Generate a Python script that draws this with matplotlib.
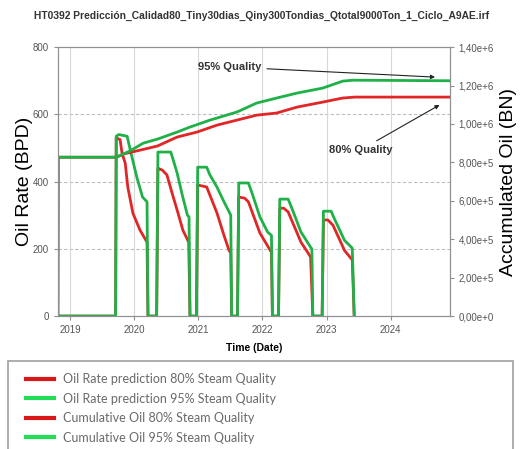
import numpy as np
import matplotlib
matplotlib.use('Agg')
import matplotlib.pyplot as plt
import matplotlib.ticker as mticker
from matplotlib.patches import Rectangle
from matplotlib.lines import Line2D

# ---- data (decimal years) ----
t_rate95 = [2018.81, 2019.70,
            2019.71, 2019.72, 2019.76, 2019.89, 2019.95, 2020.04, 2020.13, 2020.20, 2020.215,
            2020.35, 2020.37, 2020.57, 2020.60, 2020.67, 2020.75, 2020.83, 2020.855, 2020.87,
            2020.97, 2020.99, 2021.13, 2021.18, 2021.29, 2021.40, 2021.48, 2021.505, 2021.52,
            2021.61, 2021.63, 2021.78, 2021.83, 2021.96, 2022.08, 2022.14, 2022.155,
            2022.25, 2022.27, 2022.40, 2022.46, 2022.60, 2022.75, 2022.77, 2022.785,
            2022.93, 2022.95, 2023.07, 2023.12, 2023.28, 2023.40, 2023.43]
rate95 = [0, 0,
          0, 535, 540, 535, 485, 414, 354, 340, 0,
          0, 488, 488, 470, 425, 360, 300, 295, 0,
          0, 443, 443, 420, 384, 340, 310, 300, 0,
          0, 396, 396, 370, 295, 250, 240, 0,
          0, 348, 348, 320, 250, 205, 200, 0,
          0, 312, 312, 290, 225, 202, 0]

t_rate80 = [2018.81, 2019.70,
            2019.71, 2019.72, 2019.78, 2019.81, 2019.86, 2019.90, 2019.98, 2020.09, 2020.20, 2020.215,
            2020.35, 2020.37, 2020.44, 2020.51, 2020.60, 2020.67, 2020.76, 2020.85, 2020.87,
            2020.97, 2020.99, 2021.13, 2021.18, 2021.29, 2021.40, 2021.48, 2021.505, 2021.52,
            2021.61, 2021.63, 2021.72, 2021.78, 2021.96, 2022.12, 2022.14, 2022.155,
            2022.25, 2022.27, 2022.33, 2022.40, 2022.60, 2022.75, 2022.785,
            2022.93, 2022.95, 2023.02, 2023.10, 2023.28, 2023.40, 2023.43]
rate80 = [0, 0,
          0, 530, 525, 485, 455, 384, 306, 256, 220, 0,
          0, 440, 434, 420, 360, 315, 255, 220, 0,
          0, 390, 384, 360, 307, 240, 195, 188, 0,
          0, 354, 351, 340, 247, 196, 190, 0,
          0, 321, 321, 310, 220, 176, 0,
          0, 286, 286, 270, 195, 167, 0]

t_cum95 = [2018.81, 2018.815, 2019.72, 2019.93, 2020.14, 2020.36, 2020.67, 2020.87, 2021.18,
           2021.60, 2021.91, 2022.22, 2022.54, 2022.94, 2023.25, 2023.41, 2024.92]
cum95 = [0, 8.27e5, 8.27e5, 8.59e5, 9.00e5, 9.21e5, 9.58e5, 9.84e5, 1.020e6,
         1.062e6, 1.109e6, 1.135e6, 1.161e6, 1.187e6, 1.223e6, 1.228e6, 1.225e6]

t_cum80 = [2018.81, 2018.815, 2019.72, 2019.85, 2020.36, 2020.67, 2020.98, 2021.29, 2021.60,
           2021.91, 2022.22, 2022.54, 2022.94, 2023.25, 2023.44, 2024.92]
cum80 = [0, 8.27e5, 8.27e5, 8.45e5, 8.85e5, 9.32e5, 9.58e5, 9.94e5, 1.020e6,
         1.046e6, 1.057e6, 1.088e6, 1.114e6, 1.135e6, 1.140e6, 1.140e6]

years = [2019, 2020, 2021, 2022, 2023, 2024]
title = 'HT0392 Predicción_Calidad80_Tiny30dias_Qiny300Tondias_Qtotal9000Ton_1_Ciclo_A9AE.irf'
labels = ['Oil Rate prediction 80% Steam Quality',
          'Oil Rate prediction 95% Steam Quality',
          'Cumulative Oil 80% Steam Quality',
          'Cumulative Oil 95% Steam Quality']

RED = '#e02626'
GREEN = '#20b048'
LEG_RED = '#d81818'
LEG_GREEN = '#22dd55'

plt.rcParams['font.family'] = ['Liberation Sans', 'DejaVu Sans']

fig = plt.figure(figsize=(5.23, 4.49), dpi=100)
ax = fig.add_axes((0.111, 0.296, 0.749, 0.599))
ax2 = ax.twinx()

ax.plot(t_rate80, rate80, color=RED, lw=2)
ax.plot(t_rate95, rate95, color=GREEN, lw=2)
ax2.plot(t_cum80, cum80, color=RED, lw=2)
ax2.plot(t_cum95, cum95, color=GREEN, lw=2)

ax.set_xlim(2018.813, 2024.92)
ax.set_ylim(0, 800)
ax2.set_ylim(0, 1.4e6)
ax.set_xticks(years)
ax.set_yticks([0, 200, 400, 600, 800])
ax2.set_yticks(np.arange(0, 1.41e6, 2e5))


def sci_comma(v, pos):
    if v == 0:
        return '0,00e+0'
    e = int(np.floor(np.log10(v)))
    return f'{v / 10**e:.2f}'.replace('.', ',') + f'e+{e}'


ax2.yaxis.set_major_formatter(mticker.FuncFormatter(sci_comma))

for a in (ax, ax2):
    for s in a.spines.values():
        s.set_color('#909090')
    a.tick_params(labelsize=7, colors='#909090', labelcolor='#555555', length=3)

ax.grid(axis='x', color='#d8d8d8', lw=0.8)
for v in [200, 400, 600]:
    ax.axhline(v, color='#bdbdbd', lw=0.8, ls=(0, (3, 2)), zorder=0)

ax.set_ylabel('Oil Rate (BPD)', fontsize=14, labelpad=0)
ax2.set_ylabel('Accumulated Oil (BN)', fontsize=14, labelpad=4)
ax.set_xlabel('Time (Date)', fontsize=7.5, fontweight='bold', labelpad=6)
fig.text(0.5, 0.965, title, ha='center', va='center', fontsize=7.4,
         fontweight='bold', color='#333333')

ax2.annotate('95% Quality', xy=(2024.69, 1.244e6), xytext=(2021.49, 1.297e6),
             ha='center', va='center', fontsize=8, fontweight='bold', color='#333333',
             arrowprops=dict(arrowstyle='-|>', color='#222222', lw=0.8,
                             mutation_scale=6, shrinkA=2, shrinkB=0))
ax2.annotate('80% Quality', xy=(2024.76, 1.099e6), xytext=(2023.53, 8.65e5),
             ha='center', va='center', fontsize=8, fontweight='bold', color='#333333',
             arrowprops=dict(arrowstyle='-|>', color='#222222', lw=0.8,
                             mutation_scale=6, shrinkA=2, shrinkB=0))

# legend box below the chart
fig.patches.append(Rectangle((8 / 523, -0.05), 505 / 523, 0.05 + 88 / 449,
                             transform=fig.transFigure, fill=False,
                             edgecolor='#a0a0a0', lw=1.2))
handles = [Line2D([], [], color=c, lw=3) for c in (LEG_RED, LEG_GREEN, LEG_RED, LEG_GREEN)]
fig.legend(handles, labels, loc='upper left',
           bbox_to_anchor=(15 / 523, 1 - 362 / 449), frameon=False,
           prop={'family': 'Lato', 'size': 9}, labelcolor='#6a6a6a',
           handlelength=2.2, handletextpad=0.75, labelspacing=0.6)

fig.savefig('out.png', dpi=100)
